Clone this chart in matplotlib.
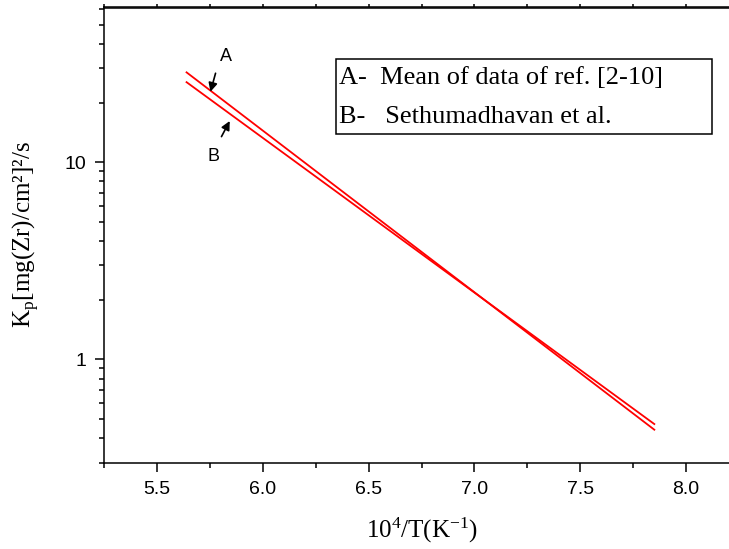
import numpy as np
import matplotlib
matplotlib.use('Agg')
import matplotlib.pyplot as plt
from matplotlib.ticker import MultipleLocator, LogLocator, NullFormatter, FixedLocator
from matplotlib.patches import Rectangle

# ---- Arrhenius lines: Kp vs 10^4/T ----
inv_T = [5.64, 7.85]
kp_mean_refs = [28.6, 0.44]       # A - mean of data of ref. [2-10]
kp_sethumadhavan = [25.5, 0.47]   # B - Sethumadhavan et al.

x_ticks = [5.5, 6.0, 6.5, 7.0, 7.5, 8.0]
x_tick_labels = ['5.5', '6.0', '6.5', '7.0', '7.5', '8.0']
y_ticks = [1, 10]
y_tick_labels = ['1', '10']

legend_lines = ['A-  Mean of data of ref. [2-10]',
                'B-   Sethumadhavan et al.']

SERIF = 'Liberation Serif'
SANS = 'Liberation Sans'
RED = '#ff0000'

plt.rcParams.update({
    'font.family': SANS,
    'mathtext.fontset': 'custom',
    'mathtext.rm': SERIF,
    'axes.linewidth': 1.1,
})

fig = plt.figure(figsize=(7.29, 5.49), dpi=100)
ax = fig.add_axes([104 / 729, 86.5 / 549, 635 / 729, 455 / 549])

ax.plot(inv_T, kp_mean_refs, color=RED, lw=1.3)
ax.plot(inv_T, kp_sethumadhavan, color=RED, lw=1.3)

ax.set_yscale('log')
ax.set_xlim(5.25, 8.25)
ax.set_ylim(0.3, 61)

ax.xaxis.set_major_locator(FixedLocator(x_ticks))
ax.set_xticklabels(x_tick_labels)
ax.xaxis.set_minor_locator(MultipleLocator(0.25))
ax.yaxis.set_major_locator(FixedLocator(y_ticks))
ax.set_yticklabels(y_tick_labels)
ax.yaxis.set_minor_locator(LogLocator(base=10, subs=np.arange(2, 10)))
ax.yaxis.set_minor_formatter(NullFormatter())

ax.tick_params(axis='both', which='major', direction='out', length=6.5,
               width=1.1, labelsize=14)
ax.tick_params(axis='both', which='minor', direction='out', length=3.5,
               width=1.1)
ax.tick_params(axis='x', which='major', pad=7)
ax.tick_params(axis='y', which='major', pad=6)

# small ticks on the top frame
top = ax.secondary_xaxis('top')
top.xaxis.set_major_locator(FixedLocator(x_ticks))
top.xaxis.set_minor_locator(MultipleLocator(0.25))
top.tick_params(which='both', direction='out', length=2.5, width=1.1,
                labeltop=False)

ax.set_xlabel(r'$\mathregular{10^4/T(K^{-1})}$', fontsize=18,
              family=SERIF, labelpad=13)
ax.set_ylabel(r'K$_\mathregular{p}$[mg(Zr)/cm²]²/s', fontsize=18,
              family=SERIF, labelpad=17)

# curve markers
arrow = dict(arrowstyle='-|>', color='k', lw=1.2, mutation_scale=13,
             shrinkA=0, shrinkB=0)
ax.annotate('', xy=(5.753, 22.8), xytext=(5.777, 28.3), arrowprops=arrow)
ax.text(5.824, 34.4, 'A', fontsize=13, ha='center', va='center')
ax.annotate('', xy=(5.844, 16.2), xytext=(5.805, 13.5), arrowprops=arrow)
ax.text(5.766, 10.7, 'B', fontsize=13, ha='center', va='center')

# key box
box_l, box_r = (335.7 - 104) / 635, (712 - 104) / 635
box_b, box_t = (462.3 - 133.3) / 455, (462.3 - 58.3) / 455
ax.add_patch(Rectangle((box_l, box_b), box_r - box_l, box_t - box_b,
                       transform=ax.transAxes, fill=False, ec='k', lw=1.1))
for i, line in enumerate(legend_lines):
    ax.text(box_l + 0.005, (462.3 - (78 + 39 * i)) / 455, line,
            transform=ax.transAxes, family=SERIF, fontsize=19,
            ha='left', va='center')

fig.savefig('out.png', dpi=100, facecolor='white')
